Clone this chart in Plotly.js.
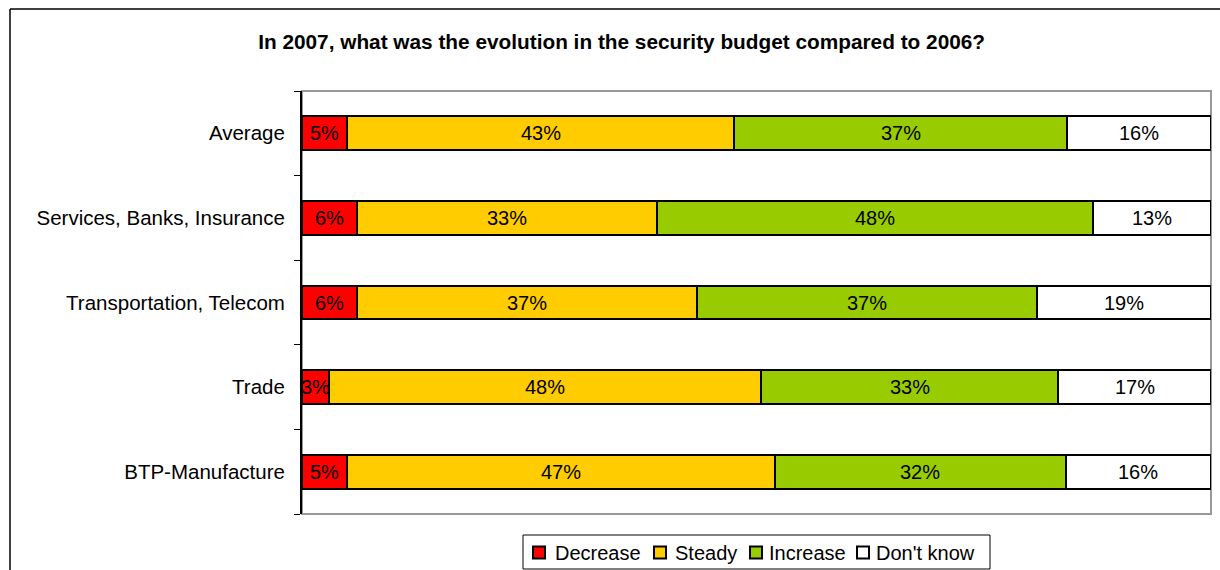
<!DOCTYPE html>
<html>
<head>
<meta charset="utf-8">
<script src="https://cdn.plot.ly/plotly-3.0.1.min.js"></script>
<style>
html,body{margin:0;padding:0;background:#fff;}
#chart{width:1220px;height:570px;}
</style>
</head>
<body>
<div id="chart"></div>
<script>
// Categories listed bottom to top
const categories = ["BTP-Manufacture", "Trade", "Transportation, Telecom", "Services, Banks, Insurance", "Average"];
const decrease = [5, 3, 6, 6, 5];
const steady   = [47, 48, 37, 33, 43];
const increase = [32, 33, 37, 48, 37];
const dontKnow = [16, 17, 19, 13, 16];
const seriesNames = ["Decrease", "Steady", "Increase", "Don't know"];
const seriesColors = ["#FF0000", "#FFCC00", "#99CC00", "#FFFFFF"];
const seriesValues = [decrease, steady, increase, dontKnow];

const FONT = "Liberation Sans, Arial, sans-serif";

const traces = seriesValues.map((vals, i) => ({
  type: "bar",
  orientation: "h",
  name: seriesNames[i],
  y: categories,
  x: vals,
  marker: {color: seriesColors[i], line: {color: "#000", width: 2}},
  hoverinfo: "skip",
  showlegend: false
}));

// Value labels centred in each (normalised) segment
const annotations = [];
categories.forEach((cat, j) => {
  const total = seriesValues.reduce((s, arr) => s + arr[j], 0);
  let cum = 0;
  seriesValues.forEach((arr) => {
    const share = arr[j] / total * 100;
    annotations.push({
      x: cum + share / 2, y: cat, xref: "x", yref: "y",
      text: arr[j] + "%", showarrow: false,
      font: {family: FONT, size: 20, color: "#000"},
      xanchor: "center", yanchor: "middle"
    });
    cum += share;
  });
});

// Plot area geometry (pixels) for converting the legend box to paper units
const PL = 302, PW = 909, PB = 514, PH = 423;
const px = v => (v - PL) / PW;
const py = v => (PB - v) / PH;

const shapes = [
  {type: "rect", xref: "paper", yref: "paper", x0: 0, x1: 1, y0: 0, y1: 1,
   line: {color: "#999", width: 2}, layer: "below"},
  // outer chart frame (left and top edges visible)
  {type: "line", xref: "paper", yref: "paper", x0: px(10), x1: px(10), y0: py(600), y1: py(9),
   line: {color: "#000", width: 1.5}},
  {type: "line", xref: "paper", yref: "paper", x0: px(10), x1: px(1260), y0: py(9), y1: py(9),
   line: {color: "#000", width: 1.5}},
  // legend box
  {type: "rect", xref: "paper", yref: "paper", x0: px(523), x1: px(990), y0: py(569), y1: py(535),
   line: {color: "#000", width: 1}, fillcolor: "#fff"}
];

// legend entries
const legendSymbolX = [533, 654, 750, 857];
const legendTextX = [553, 673, 767, 874];
seriesNames.forEach((name, i) => {
  shapes.push({type: "rect", xref: "paper", yref: "paper",
    x0: px(legendSymbolX[i]), x1: px(legendSymbolX[i] + 12),
    y0: py(558.5), y1: py(546.5),
    line: {color: "#000", width: 2}, fillcolor: seriesColors[i]});
  annotations.push({xref: "paper", yref: "paper", x: px(legendTextX[i]), y: py(552.5),
    text: name, showarrow: false, xanchor: "left", yanchor: "middle",
    font: {family: FONT, size: 20, color: "#000"}});
});

const layout = {
  width: 1220, height: 570,
  margin: {l: 302, r: 9, t: 91, b: 56, pad: 0, autoexpand: false},
  paper_bgcolor: "#fff",
  plot_bgcolor: "#fff",
  barmode: "stack",
  barnorm: "percent",
  bargap: 0.6,
  showlegend: false,
  font: {family: FONT, size: 20, color: "#000"},
  title: {
    text: "<b>In 2007, what was the evolution in the security budget compared to 2006?</b>",
    font: {family: FONT, size: 20.8, color: "#000"},
    x: 0.5095, xanchor: "center",
    y: 0.926, yanchor: "middle"
  },
  xaxis: {
    range: [0, 100],
    showgrid: false, zeroline: false,
    showticklabels: false, ticks: "",
    showline: false
  },
  yaxis: {
    type: "category",
    categoryorder: "array",
    categoryarray: categories,
    showgrid: false, zeroline: false,
    showline: true, linecolor: "#000", linewidth: 2,
    ticks: "outside", ticklen: 6, tickcolor: "#000", tickwidth: 1,
    tickson: "boundaries",
    ticklabelstandoff: 11,
    tickfont: {family: FONT, size: 20.5, color: "#000"}
  },
  annotations: annotations,
  shapes: shapes
};

Plotly.newPlot("chart", traces, layout, {displayModeBar: false, staticPlot: true});
</script>
</body>
</html>
